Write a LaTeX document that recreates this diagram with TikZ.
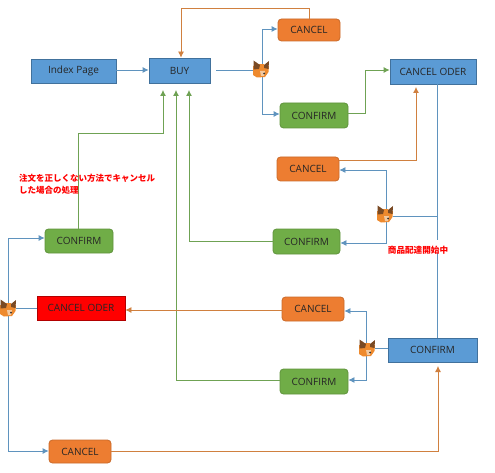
\documentclass[tikz,border=0pt]{standalone}
\usepackage{fontspec}
\setmainfont{Open Sans}
\newfontfamily\cjkfont{Noto Sans CJK JP}
\usetikzlibrary{arrows.meta,calc}
\definecolor{bluefill}{HTML}{5B9BD5}
\definecolor{blueline}{HTML}{41719C}
\definecolor{connblue}{HTML}{5F93BE}
\definecolor{orangefill}{HTML}{ED7D31}
\definecolor{orangeline}{HTML}{D0803F}
\definecolor{greenfill}{HTML}{70AD47}
\definecolor{greenline}{HTML}{6FA254}
\definecolor{foxorange}{HTML}{EE8A2E}
\definecolor{foxbrown}{HTML}{7A4A24}
\definecolor{foxpale}{HTML}{F3C9A0}
\tikzset{
  base/.style={draw,line width=0.8pt,inner sep=0pt,font=\fontsize{10}{12}\selectfont,text=black!85},
  bluebox/.style={base,fill=bluefill,draw=blueline},
  redbox/.style={base,fill=red,draw=red!70!black},
  orangebox/.style={base,fill=orangefill,draw=orangefill!85!black,rounded corners=3.5pt},
  greenbox/.style={base,fill=greenfill,draw=greenfill!85!black,rounded corners=3.5pt},
  tipb/.style={-{Latex[length=6pt,width=6pt]}},
  cblue/.style={draw=connblue,line width=0.8pt},
  corange/.style={draw=orangeline,line width=0.8pt},
  cgreen/.style={draw=greenline,line width=0.8pt},
  foxnode/.style={inner sep=0pt,minimum size=16pt},
  note/.style={text=red,inner sep=0pt,align=left,font=\cjkfont\bfseries\fontsize{8.5}{12}\selectfont}
}
\newcommand{\foxat}[1]{%
  \begin{scope}[shift={(#1)}]
    \fill[foxorange] (-8,-3) -- (8,-3) -- (7.5,3) -- (4,8) -- (-4,8.5) -- (-8,6) -- cycle;
    \fill[foxorange] (-2,-5) -- (3,-5) -- (3,0) -- (-2,0) -- cycle;
    \fill[foxbrown] (-7.5,-8.5) -- (-1,-4) -- (-2,0) -- (-7.5,0.5) -- cycle;
    \fill[foxbrown] (8,-8) -- (3,-4) -- (3,-1) -- (7.5,0) -- cycle;
    \fill[foxpale] (-1,2) -- (4,2) -- (3,7) -- (0,7) -- cycle;
    \fill[black!80] (3,4.5) circle (1pt);
  \end{scope}}
\begin{document}
\begin{tikzpicture}[x=1pt,y=-1pt]
\useasboundingbox (0,0) rectangle (495,473);
\def\bx#1#2#3#4#5#6#7{\node[#2,minimum width=#5pt-#3pt,minimum height=#6pt-#4pt] (#1) at ({(#3+#5)/2},{(#4+#6)/2}) {#7};}
\bx{index}{bluebox}{31}{59}{116}{83}{Index Page}
\bx{buy}{bluebox}{149}{58}{210}{83}{BUY}
\bx{canA}{orangebox}{278}{19}{340}{41}{CANCEL}
\bx{conA}{greenbox}{280}{103}{348}{128}{CONFIRM}
\bx{oder}{bluebox}{390}{59}{476}{84}{CANCEL ODER}
\bx{canB}{orangebox}{277}{157}{339}{181}{CANCEL}
\bx{conB}{greenbox}{273}{229}{340}{254}{CONFIRM}
\bx{conL}{greenbox}{45}{229}{113}{253}{CONFIRM}
\bx{red}{redbox}{37}{296}{125}{320}{CANCEL ODER}
\bx{canC}{orangebox}{282}{297}{344}{321}{CANCEL}
\bx{conf}{bluebox}{388}{338}{477}{362}{CONFIRM}
\bx{conC}{greenbox}{280}{369}{348}{394}{CONFIRM}
\bx{canD}{orangebox}{49}{440}{111}{463}{CANCEL}
\node[foxnode] (foxA) at (261,69) {};
\node[foxnode] (foxB) at (385,214) {};
\node[foxnode] (foxC) at (367,348) {};
\node[foxnode] (foxD) at (8,308) {};
\coordinate (buyOut) at (216,70);
\coordinate (buyInL) at (163,90);
\coordinate (buyInM) at (176,90);
\coordinate (buyInR) at (189,90);
\coordinate (junc) at (437,216);
\coordinate (gapTop) at (437,240);
\coordinate (gapBot) at (437,253);
% connectors
\draw[cblue,tipb] (index.east |- 0,70) -- (buy.west |- 0,70);
\draw[cblue] (buyOut) -- (foxA.west |- buyOut);
\draw[cblue,tipb] (262,69) |- (canA.west |- 0,29);
\draw[cblue,tipb] (262,69) |- (conA.west |- 0,114);
\draw[corange,tipb] (canA.north -| 309,0) |- (181,8) -- (buy.north -| 181,0);
\draw[cgreen,tipb] (conA.east |- 0,113) -| (365,70) -- (oder.west |- 0,70);
\draw[corange,tipb] (canB.east |- 0,160) -| (416,87);
\draw[cblue] (oder.south -| 437,0) -- (gapTop);
\draw[cblue] (junc) -- (foxB.east |- junc);
\draw[cblue,tipb] (386,214) |- (canB.east |- 0,170);
\draw[cblue,tipb] (386,214) |- (conB.east |- 0,243);
\draw[cblue] (conf.north -| 437,0) -- (gapBot);
\draw[cgreen,tipb] (conB.west |- 0,241) -| (buyInR);
\draw[cgreen,tipb] (conL.north -| 78,0) |- (163,133) -- (buyInL);
\draw[cgreen,tipb] (conC.west |- 0,380) -| (buyInM);
\draw[cblue] (conf.west |- 0,348) -- (foxC.east |- 0,348);
\draw[cblue,tipb] (366,348) |- (canC.east |- 0,311);
\draw[cblue,tipb] (366,348) |- (conC.east |- 0,380);
\draw[corange,tipb] (canC.west |- 0,310) -- (red.east |- 0,310);
\draw[cblue] (red.west |- 0,308) -- (foxD.east |- 0,308);
\draw[cblue,tipb] (8,308) |- (conL.west |- 0,238);
\draw[cblue,tipb] (8,308) |- (canD.west |- 0,451);
\draw[corange,tipb] (canD.east |- 0,451) -| (438,366);
% foxes
\foxat{foxA}
\foxat{foxB}
\foxat{foxC}
\foxat{foxD}
% notes
\node[note,anchor=north west] (noteA) at (19,174) {注文を正しくない方法でキャンセル\\した場合の処理};
\node[note,anchor=center,font=\cjkfont\bfseries\fontsize{8.6}{10}\selectfont] (noteB) at (418,250) {商品配達開始中};
\end{tikzpicture}
\end{document}
